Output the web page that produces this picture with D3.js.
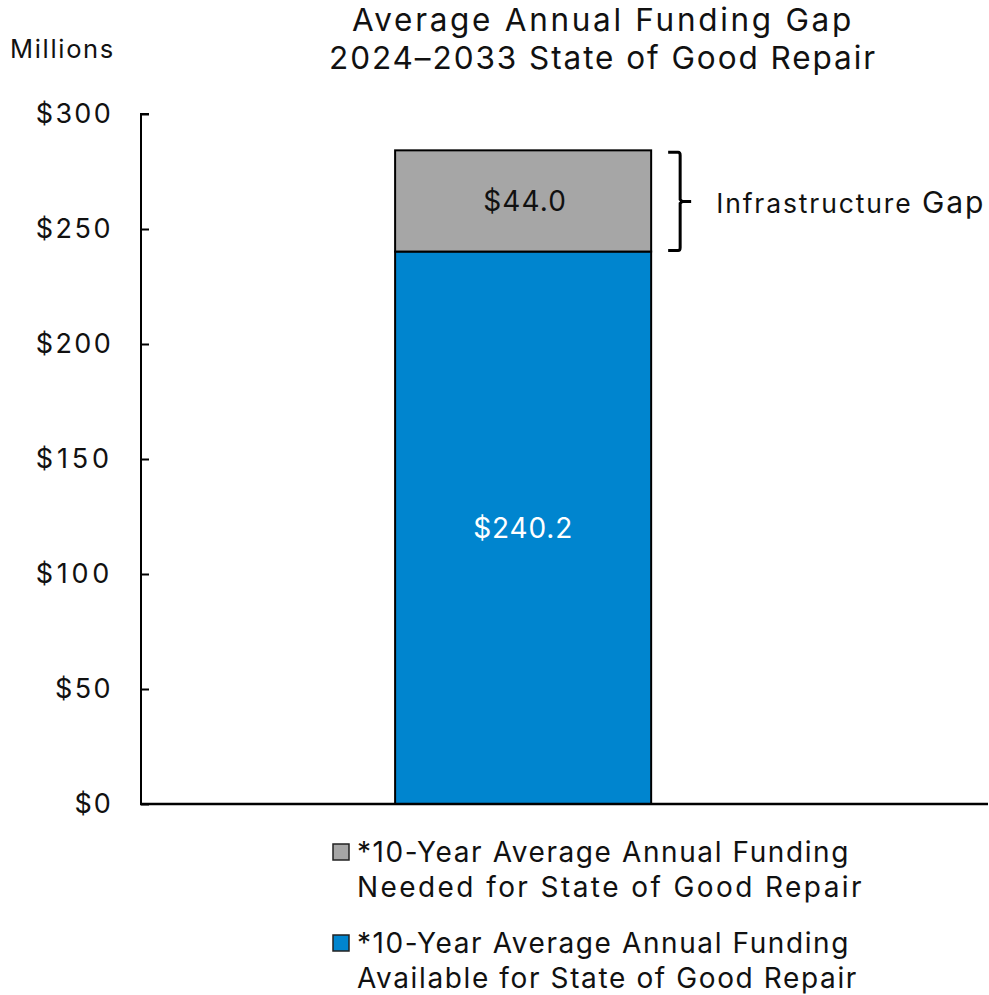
<!DOCTYPE html>
<html>
<head>
<meta charset="utf-8">
<script src="https://cdn.jsdelivr.net/npm/d3@7/dist/d3.min.js"></script>
<style>
  html, body { margin: 0; padding: 0; background: #fff; }
  svg text { font-family: "Inter", "Lato", sans-serif; fill: #111; }
</style>
</head>
<body>
<svg id="chart" width="989" height="995"></svg>
<script>
// Funding gap data (millions of dollars)
const categories = ["2024–2033"];
const availableValues = [240.2];
const gapValues = [44.0];
const yTicks = [0, 50, 100, 150, 200, 250, 300];
const seriesNames = [
  ["*10-Year Average Annual Funding", "Needed for State of Good Repair"],
  ["*10-Year Average Annual Funding", "Available for State of Good Repair"]
];
const titleLines = ["Average Annual Funding Gap", "2024–2033 State of Good Repair"];

const colors = { available: "#0085CF", gap: "#A6A6A6" };

const svg = d3.select("#chart");
const margin = { left: 141, right: 1, top: 114, bottom: 191 };
const W = 989, H = 995;

const y = d3.scaleLinear().domain([0, 300]).range([H - margin.bottom, margin.top]);
const x = d3.scaleBand().domain(categories).range([margin.left, W - margin.right])
  .paddingInner(0).paddingOuter(1.154).align(0.43);

// Widen a text run with letter-spacing so it spans the given width
function fitWidth(sel, width) {
  sel.each(function () {
    const node = this;
    const n = node.textContent.length;
    const w = node.getComputedTextLength();
    if (n > 1 && w < width) d3.select(node).attr("letter-spacing", (width - w) / n);
  });
  return sel;
}

// Title
svg.append("g").selectAll("text").data(titleLines).join("text")
  .attr("x", 603).attr("y", (d, i) => 31 + i * 38)
  .attr("text-anchor", "middle").attr("font-size", 31.5)
  .text(d => d)
  .each(function (d, i) { fitWidth(d3.select(this), [502, 548][i]); });

fitWidth(svg.append("text").attr("x", 10).attr("y", 58).attr("font-size", 25.5).text("Millions"), 105);

// Stacked bars
const bw = x.bandwidth();
const g = svg.append("g");
categories.forEach((c, i) => {
  const x0 = x(c);
  const a = availableValues[i], gp = gapValues[i];
  g.append("rect").attr("x", x0).attr("width", bw)
    .attr("y", y(a)).attr("height", y(0) - y(a))
    .attr("fill", colors.available).attr("stroke", "#000").attr("stroke-width", 2);
  g.append("rect").attr("x", x0).attr("width", bw)
    .attr("y", y(a + gp)).attr("height", y(a) - y(a + gp))
    .attr("fill", colors.gap).attr("stroke", "#000").attr("stroke-width", 2);
  fitWidth(g.append("text").attr("x", x0 + bw / 2).attr("y", y(a / 2)).attr("dy", "0.35em")
    .attr("text-anchor", "middle").attr("font-size", 28).style("fill", "#fff")
    .text("$" + a.toFixed(1)), 100);
  fitWidth(g.append("text").attr("x", x0 + bw / 2 + 2).attr("y", y(a + gp / 2)).attr("dy", "0.35em")
    .attr("text-anchor", "middle").attr("font-size", 28)
    .text("$" + gp.toFixed(1)), 84);

  // Brace marking the gap
  const bx = x0 + bw + 17, top = y(a + gp) + 2, bot = y(a) - 1, mid = (top + bot) / 2;
  g.append("path")
    .attr("d", `M${bx},${top} L${bx + 10},${top} Q${bx + 12},${top} ${bx + 12},${top + 3} L${bx + 12},${mid - 2} L${bx + 14},${mid} L${bx + 23},${mid} M${bx + 14},${mid} L${bx + 12},${mid + 2} L${bx + 12},${bot - 3} Q${bx + 12},${bot} ${bx + 10},${bot} L${bx},${bot}`)
    .attr("fill", "none").attr("stroke", "#000").attr("stroke-width", 3);
  const lbl = g.append("text").attr("x", bx + 48).attr("y", mid + 2).attr("dy", "0.35em").attr("font-size", 26.5);
  lbl.append("tspan").text("Infrastructure ");
  lbl.append("tspan").attr("font-size", 30).text("Gap");
  const lw = lbl.node().getComputedTextLength();
  lbl.attr("letter-spacing", Math.max(0, (269 - lw) / 18));
});

// Y axis with inward ticks
const yAxis = d3.axisRight(y).tickValues(yTicks).tickSize(8).tickFormat("");
const ya = svg.append("g").attr("transform", `translate(${margin.left},0)`).call(yAxis);
ya.select(".domain").attr("stroke", "#000").attr("stroke-width", 2).attr("d", `M8,${y(300)}H0V${y(0)}`);
ya.selectAll(".tick line").attr("stroke", "#000").attr("stroke-width", 2);
svg.append("g").selectAll("text").data(yTicks).join("text")
  .attr("x", 113).attr("y", d => y(d)).attr("dy", "0.35em")
  .attr("text-anchor", "end").attr("font-size", 27)
  .text(d => "$" + d)
  .each(function (d) {
    const s = "$" + d;
    fitWidth(d3.select(this), s.length * 19.3);
  });

// X axis baseline
svg.append("line").attr("x1", margin.left - 1).attr("x2", W - margin.right)
  .attr("y1", y(0)).attr("y2", y(0)).attr("stroke", "#000").attr("stroke-width", 2.5);

// Legend
const legend = svg.append("g");
const legColors = [colors.gap, colors.available];
const legWidths = [[493, 507], [493, 501]];
seriesNames.forEach((lines, i) => {
  const ly = 852 + i * 91;
  legend.append("rect").attr("x", 333).attr("y", ly - 8).attr("width", 16).attr("height", 16)
    .attr("fill", legColors[i]).attr("stroke", "#222").attr("stroke-width", 1.5);
  lines.forEach((t, j) => {
    fitWidth(legend.append("text").attr("x", 357).attr("y", ly + j * 35).attr("dy", "0.35em")
      .attr("font-size", 28).text(t), legWidths[i][j]);
  });
});
</script>
</body>
</html>
